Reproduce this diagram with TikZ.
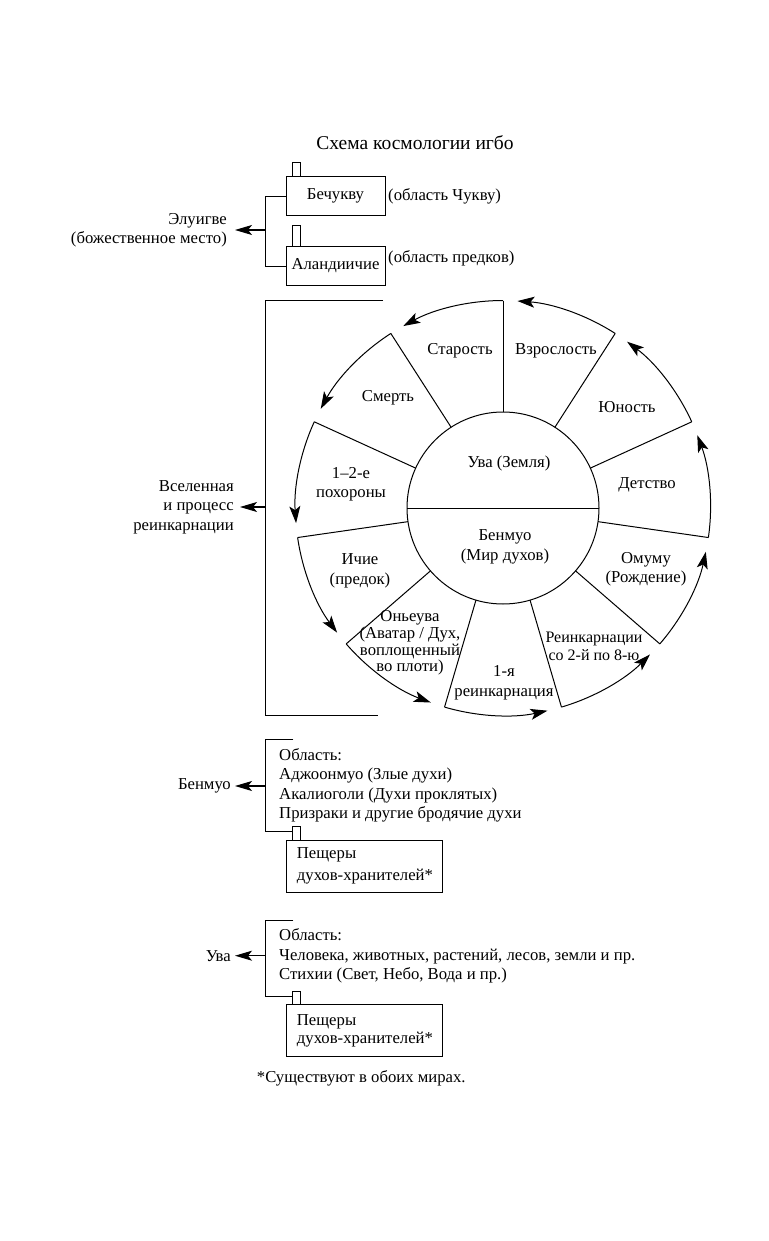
\documentclass[tikz,border=0pt]{standalone}
\usepackage{fontspec}
\setmainfont{Liberation Serif}
\usetikzlibrary{arrows.meta}
\begin{document}
\begin{tikzpicture}[x=1pt,y=-1pt,
  lbl/.style={font=\fontsize{16.7}{19.5}\selectfont, inner sep=0pt, align=center},
  lblr/.style={lbl, align=right},
  lbll/.style={lbl, align=left},
  ln/.style={line width=0.9pt},
  wl/.style={line width=1pt},
  arr/.style={-{Stealth[length=17pt,width=10pt,inset=4pt]}, line width=1.1pt},
  warr/.style={-{Stealth[length=17pt,width=11pt,inset=4pt]}},
  box/.style={draw, line width=0.9pt, inner sep=0pt, font=\fontsize{16.7}{19.5}\selectfont}
]
\fill[white] (0,0) rectangle (768,1241);
\useasboundingbox (0,0) rectangle (768,1241);

% ---------- title ----------
\node[lbl, font=\fontsize{19.5}{22}\selectfont] (title) at (415,143) {Схема космологии игбо};

% ---------- top: Eluigve ----------
\node[box, minimum width=99pt, minimum height=38.3pt] (bech) at (335.5,196) {Бечукву};
\node[box, minimum width=99pt, minimum height=38.3pt] (aland) at (335.5,266) {Аландиичие};
\draw[ln] ([xshift=6.7pt]bech.north west) -- ++(0,-14) -- ++(8,0) -- ++(0,14);
\draw[ln] ([xshift=6.7pt]aland.north west) -- ++(0,-20.7) -- ++(8,0) -- ++(0,20.7);
\node[lbll, anchor=west] (bechl) at (388,196) {(область Чукву)};
\node[lbll, anchor=west] (alandl) at (388,258) {(область предков)};
\coordinate (ebt) at (265,196);
\coordinate (ebb) at (265,266);
\coordinate (ebm) at (265,230);
\draw[ln] (bech.west) -- (ebt) -- (ebb) -- (aland.west);
\node[lblr, anchor=east] (elu) at (227,230) {Элуигве\\(божественное место)};
\draw[arr, shorten >=8pt] (ebm) -- (elu.east);

% ---------- wheel ----------
\begin{scope}[shift={(503,508)}, yscale=-1]
  \draw[wl] (0,0) circle[radius=96];
  \draw[wl] (-96,0) -- (96,0);
  \foreach \k in {0,...,10} {
    \pgfmathsetmacro\a{90+\k*360/11}
    \pgfmathsetmacro\b{\a+360/11-4}
    \draw[wl] (\a:96) -- (\a:207.5);
    \draw[wl, warr] (\a:207.5) arc[start angle=\a, end angle=\b, radius=207.5];
  }
\end{scope}

\node[lbl] (star) at (460,351) {Старость};
\node[lbl] (vzro) at (556,351) {Взрослость};
\node[lbl] (yun) at (627,407) {Юность};
\node[lbl] (smer) at (388,398) {Смерть};
\node[lbl] (poh) at (351,484) {1--2-е\\похороны};
\node[lbl] (uva) at (509,463) {Ува (Земля)};
\node[lbl] (det) at (647,485) {Детство};
\node[lbl] (benm) at (505,547) {Бенмуо\\(Мир духов)};
\node[lbl] (ichie) at (360,571) {Ичие\\(предок)};
\node[lbl] (omu) at (646,569) {Омуму\\(Рождение)};
\node[lbl, font=\fontsize{16.7}{16.7}\selectfont] (onye) at (410,643) {Оньеува\\(Аватар / Дух,\\воплощенный\\во плоти)};
\node[lbl] (first) at (504,683) {1-я\\реинкарнация};
\node[lbl, font=\fontsize{16}{18.3}\selectfont] (rein) at (594,646) {Реинкарнации\\со 2-й по 8-ю};

% left bracket of the wheel
\coordinate (wbt) at (383,300);
\coordinate (wbtl) at (265,300);
\coordinate (wbbl) at (265,715);
\coordinate (wbb) at (378,715);
\coordinate (wbm) at (265,507);
\draw[ln] (wbt) -- (wbtl) -- (wbbl) -- (wbb);
\node[lblr, anchor=east] (univ) at (234,507) {Вселенная\\и процесс\\реинкарнации};
\draw[arr, shorten >=6pt] (wbm) -- (univ.east);

% ---------- Benmuo block ----------
\coordinate (b1t) at (293.3,739.3);
\coordinate (b1tl) at (265,739.3);
\coordinate (b1bl) at (265,831.7);
\coordinate (b1b) at (292.7,831.7);
\coordinate (b1m) at (265,786);
\draw[ln] (b1t) -- (b1tl) -- (b1bl) -- (b1b);
\node[lbll, anchor=west, font=\fontsize{16.7}{19.4}\selectfont] (b1txt) at (279,785.3) {Область:\\Аджоонмуо (Злые духи)\\Акалиоголи (Духи проклятых)\\Призраки и другие бродячие духи};
\node[lblr, anchor=east] (benl) at (231,786) {Бенмуо};
\draw[arr, shorten >=4pt] (b1m) -- (benl.east);
\node[box, minimum width=156.7pt, minimum height=51.6pt] (cave1) at (364.35,866.5) {};
\draw[ln] ([xshift=6.7pt]cave1.north west) -- ++(0,-13.4) -- ++(8,0) -- ++(0,13.4);
\node[lbll, anchor=west, font=\fontsize{16.7}{21.7}\selectfont] (cave1t) at (296.7,866) {Пещеры\\духов-хранителей*};

% ---------- Uva block ----------
\coordinate (b2t) at (293.3,920);
\coordinate (b2tl) at (265,920);
\coordinate (b2bl) at (265,996);
\coordinate (b2b) at (292.7,996);
\coordinate (b2m) at (265,955.7);
\draw[ln] (b2t) -- (b2tl) -- (b2bl) -- (b2b);
\node[lbll, anchor=west, font=\fontsize{16.7}{19.2}\selectfont] (b2txt) at (279,955.8) {Область:\\Человека, животных, растений, лесов, земли и пр.\\Стихии (Свет, Небо, Вода и пр.)};
\node[lblr, anchor=east] (uval) at (231,955.7) {Ува};
\draw[arr, shorten >=4pt] (b2m) -- (uval.east);
\node[box, minimum width=156.7pt, minimum height=51.7pt] (cave2) at (364.35,1030.2) {};
\draw[ln] ([xshift=6.7pt]cave2.north west) -- ++(0,-12.6) -- ++(8,0) -- ++(0,12.6);
\node[lbll, anchor=west, font=\fontsize{16.7}{18.3}\selectfont] (cave2t) at (296.7,1031) {Пещеры\\духов-хранителей*};

% ---------- footnote ----------
\node[lbll, anchor=west] (foot) at (256.7,1078) {*Существуют в обоих мирах.};
\end{tikzpicture}
\end{document}
